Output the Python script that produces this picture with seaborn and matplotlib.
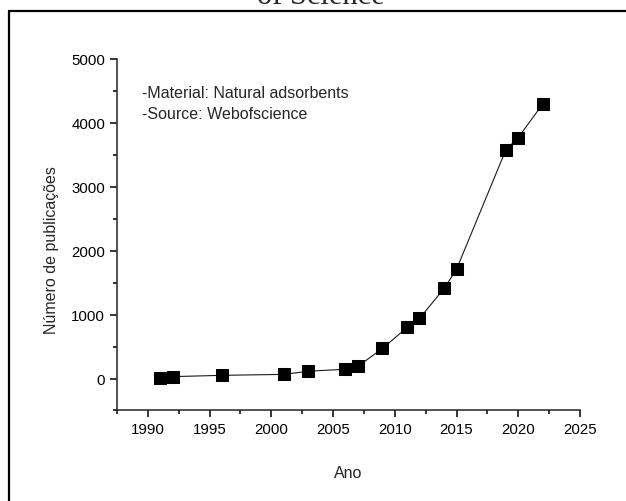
import matplotlib
matplotlib.use('Agg')
import matplotlib.pyplot as plt
import matplotlib.lines as mlines
from matplotlib.ticker import MultipleLocator
import pandas as pd
import seaborn as sns

# Data
anos = [1991, 1992, 1996, 2001, 2003, 2006, 2007, 2009, 2011, 2012, 2014, 2015, 2019, 2020, 2022]
publicacoes = [15, 30, 50, 65, 115, 145, 190, 470, 800, 940, 1410, 1710, 3580, 3770, 4300]
notas = ['-Material: Natural adsorbents', '-Source: Webofscience']

df = pd.DataFrame({'Ano': anos, 'Publicacoes': publicacoes})

# Plot aesthetics
sns.set_style('ticks')
plt.rcParams['font.family'] = ['Liberation Sans', 'DejaVu Sans']
plt.rcParams['axes.linewidth'] = 1.1
plt.rcParams['xtick.major.width'] = 1.1
plt.rcParams['ytick.major.width'] = 1.1
plt.rcParams['xtick.minor.width'] = 1.1
plt.rcParams['ytick.minor.width'] = 1.1

fig = plt.figure(figsize=(6.26, 5.02), dpi=100)
ax = fig.add_axes([0.1869, 0.1803, 0.7396, 0.7002])

sns.lineplot(data=df, x='Ano', y='Publicacoes', ax=ax,
             color='#1a1a1a', linewidth=0.8,
             marker='s', markersize=8, markerfacecolor='black',
             markeredgecolor='black')

ax.set_xlim(1987.5, 2025)
ax.set_ylim(-500, 5000)
ax.xaxis.set_major_locator(MultipleLocator(5))
ax.xaxis.set_minor_locator(MultipleLocator(2.5))
ax.yaxis.set_major_locator(MultipleLocator(1000))
ax.yaxis.set_minor_locator(MultipleLocator(500))
ax.tick_params(which='major', direction='out', length=5, labelsize=10.8, colors='black')
ax.tick_params(which='minor', direction='out', length=3, colors='black')
sns.despine(ax=ax)

ax.set_xlabel('Ano', fontsize=11.5)
ax.set_ylabel('Número de publicações', fontsize=11.5)
ax.xaxis.set_label_coords(0.5, -0.155)
ax.yaxis.set_label_coords(-0.125, 0.46)

# Notes inside the plot
ax.text(0.054, 0.905, notas[0], transform=ax.transAxes, fontsize=11.5, va='center')
ax.text(0.054, 0.845, notas[1], transform=ax.transAxes, fontsize=11.5, va='center')

# Cut-off caption and frame from the source document
fig.text(0.513, 0.992, 'of Science', family=['Liberation Serif', 'DejaVu Serif'],
         fontsize=22, ha='center', va='baseline')
fig.add_artist(mlines.Line2D([9 / 626, 1.0], [1 - 12 / 502, 1 - 12 / 502],
                             transform=fig.transFigure, color='black', linewidth=1.6))
fig.add_artist(mlines.Line2D([9 / 626, 9 / 626], [0.0, 1 - 12 / 502],
                             transform=fig.transFigure, color='black', linewidth=1.6))

plt.savefig('out.png', dpi=100)
